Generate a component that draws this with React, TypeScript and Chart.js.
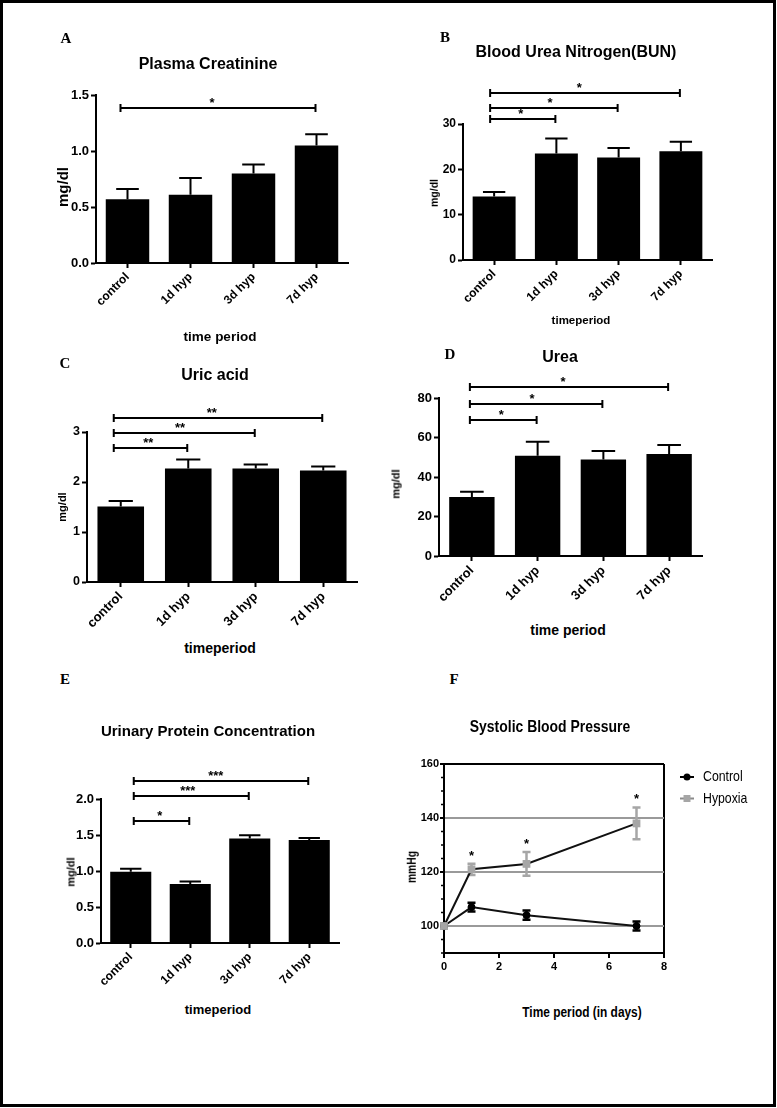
import React, { useEffect, useRef } from "react";
import { Chart, registerables } from "chart.js";

Chart.register(...registerables);

const SANS = '"Liberation Sans", Arial, Helvetica, sans-serif';
const SERIF = '"Liberation Serif", "Times New Roman", Times, serif';
const NARROW_SCALE = 0.82;

// ---------- shared categories ----------
const groups = ["control", "1d hyp", "3d hyp", "7d hyp"];

// ---------- A: Plasma Creatinine ----------
const creatinineMean = [0.57, 0.61, 0.8, 1.05];
const creatinineSem = [0.09, 0.15, 0.08, 0.1];
const creatinineTicks = [0, 0.5, 1.0, 1.5];
const creatinineSig: [number, number, number, string][] = [[0, 3, 1.38, "*"]];

// ---------- B: Blood Urea Nitrogen ----------
const bunMean = [14.0, 23.5, 22.6, 24.0];
const bunSem = [1.0, 3.3, 2.1, 2.1];
const bunTicks = [0, 10, 20, 30];
const bunSig: [number, number, number, string][] = [
  [0, 1, 31.0, "*"],
  [0, 2, 33.6, "*"],
  [0, 3, 36.9, "*"],
];

// ---------- C: Uric acid ----------
const uricMean = [1.51, 2.27, 2.27, 2.23];
const uricSem = [0.11, 0.18, 0.08, 0.08];
const uricTicks = [0, 1, 2, 3];
const uricSig: [number, number, number, string][] = [
  [0, 1, 2.69, "**"],
  [0, 2, 2.98, "**"],
  [0, 3, 3.28, "**"],
];

// ---------- D: Urea ----------
const ureaMean = [29.9, 50.7, 48.8, 51.7];
const ureaSem = [2.6, 7.2, 4.4, 4.5];
const ureaTicks = [0, 20, 40, 60, 80];
const ureaSig: [number, number, number, string][] = [
  [0, 1, 68.7, "*"],
  [0, 2, 76.9, "*"],
  [0, 3, 85.5, "*"],
];

// ---------- E: Urinary Protein Concentration ----------
const proteinMean = [0.99, 0.82, 1.45, 1.43];
const proteinSem = [0.04, 0.035, 0.045, 0.03];
const proteinTicks = [0, 0.5, 1.0, 1.5, 2.0];
const proteinSig: [number, number, number, string][] = [
  [0, 1, 1.7, "*"],
  [0, 2, 2.04, "***"],
  [0, 3, 2.25, "***"],
];

// ---------- F: Systolic Blood Pressure ----------
const days = [0, 1, 3, 7];
const controlBP = [100, 107, 104, 100];
const controlBPSem = [1.0, 1.6, 1.7, 1.7];
const hypoxiaBP = [100, 121, 123, 138];
const hypoxiaBPSem = [1.0, 2.1, 4.4, 5.9];
const hypoxiaSig = ["", "*", "*", "*"];
const bpXTicks = [0, 2, 4, 6, 8];
const bpYTicks = [100, 120, 140, 160];

// ---------- layout constants ----------
const Y_W = 46;
const X_H = 56;
const PAD_T = 70;
const PAD_R = 20;

type Area = { L: number; T: number; R: number; B: number };

type BarPanelProps = {
  values: number[];
  errors: number[];
  ticks: number[];
  sig: [number, number, number, string][];
  decimals: number;
  area: Area;
  yFont: number;
  xFont: number;
  leftShift: number;
};

function BarPanel(p: BarPanelProps) {
  const ref = useRef<HTMLCanvasElement>(null);
  const { L, T, R, B } = p.area;
  const left = L - Y_W;
  const top = T - PAD_T;
  const width = R - left + PAD_R;
  const height = B - top + X_H;

  useEffect(() => {
    if (!ref.current) return;
    const errorPlugin = {
      id: "errorBars",
      afterDatasetsDraw(chart: any) {
        const ctx = chart.ctx;
        const meta = chart.getDatasetMeta(0);
        const y = chart.scales.y;
        ctx.save();
        ctx.strokeStyle = "#000";
        ctx.lineWidth = 2;
        meta.data.forEach((bar: any, i: number) => {
          const yTop = y.getPixelForValue(p.values[i] + p.errors[i]);
          const yBase = y.getPixelForValue(p.values[i]);
          const half = bar.width * 0.26;
          ctx.beginPath();
          ctx.moveTo(bar.x, yBase);
          ctx.lineTo(bar.x, yTop);
          ctx.moveTo(bar.x - half, yTop);
          ctx.lineTo(bar.x + half, yTop);
          ctx.stroke();
        });
        ctx.restore();
      },
    };
    const bracketPlugin = {
      id: "sigBrackets",
      afterDraw(chart: any) {
        const ctx = chart.ctx;
        const x = chart.scales.x;
        const y = chart.scales.y;
        ctx.save();
        ctx.strokeStyle = "#000";
        ctx.fillStyle = "#000";
        ctx.lineWidth = 2;
        ctx.font = `bold 13px ${SANS}`;
        ctx.textAlign = "center";
        ctx.textBaseline = "alphabetic";
        p.sig.forEach(([a, b, v, label]) => {
          const x1 = x.getPixelForValue(a) + p.leftShift;
          const x2 = x.getPixelForValue(b) - 1;
          const yy = Math.round(y.getPixelForValue(v));
          ctx.beginPath();
          ctx.moveTo(x1, yy);
          ctx.lineTo(x2, yy);
          ctx.moveTo(x1, yy - 4);
          ctx.lineTo(x1, yy + 4);
          ctx.moveTo(x2, yy - 4);
          ctx.lineTo(x2, yy + 4);
          ctx.stroke();
          ctx.fillText(label, x1 + (x2 - x1) * 0.47, yy - 1);
        });
        ctx.restore();
      },
    };
    const ticks = p.ticks;
    const chart = new Chart(ref.current, {
      type: "bar",
      data: {
        labels: groups,
        datasets: [
          {
            data: p.values,
            backgroundColor: "#000",
            borderWidth: 0,
            barPercentage: 0.69,
            categoryPercentage: 1,
          },
        ],
      },
      options: {
        animation: false,
        responsive: false,
        maintainAspectRatio: false,
        events: [],
        layout: { padding: { top: PAD_T, right: PAD_R, left: 0, bottom: 0 }, autoPadding: false },
        plugins: { legend: { display: false }, tooltip: { enabled: false }, title: { display: false } },
        scales: {
          x: {
            type: "category",
            offset: true,
            grid: {
              display: true,
              offset: false,
              drawOnChartArea: false,
              drawTicks: true,
              tickLength: 5,
              tickWidth: 2,
              tickColor: "#000",
            },
            border: { display: true, color: "#000", width: 2 },
            ticks: {
              color: "#000",
              font: { family: SANS, size: p.xFont, weight: "bold" },
              minRotation: 45,
              maxRotation: 45,
              padding: 2,
              autoSkip: false,
            },
            afterFit: (s: any) => {
              s.height = X_H;
            },
          },
          y: {
            type: "linear",
            min: ticks[0],
            max: ticks[ticks.length - 1],
            afterBuildTicks: (s: any) => {
              s.ticks = ticks.map((v) => ({ value: v }));
            },
            grid: {
              display: true,
              drawOnChartArea: false,
              drawTicks: true,
              tickLength: 5,
              tickWidth: 2,
              tickColor: "#000",
            },
            border: { display: true, color: "#000", width: 2 },
            ticks: {
              color: "#000",
              font: { family: SANS, size: p.yFont, weight: "bold" },
              padding: 2,
              callback: (v: any) => Number(v).toFixed(p.decimals),
            },
            afterFit: (s: any) => {
              s.width = Y_W;
            },
          },
        },
      } as any,
      plugins: [errorPlugin, bracketPlugin],
    });
    return () => chart.destroy();
  }, []);

  return (
    <canvas
      ref={ref}
      width={width}
      height={height}
      style={{ position: "absolute", left, top, width, height }}
    />
  );
}

function BPPanel() {
  const ref = useRef<HTMLCanvasElement>(null);
  const area: Area = { L: 444, T: 764, R: 664, B: 953 };
  const YW = 40;
  const XH = 30;
  const PT = 24;
  const PR = 106;
  const left = area.L - YW;
  const top = area.T - PT;
  const width = area.R - left + PR;
  const height = area.B - top + XH;

  useEffect(() => {
    if (!ref.current) return;
    const sems = [controlBPSem, hypoxiaBPSem];
    const means = [controlBP, hypoxiaBP];
    const errColors = ["#000", "#a6a6a6"];
    const legendLine = ["#000", "#8a8a8a"];

    const errPlugin = {
      id: "bpErrors",
      beforeDatasetsDraw(chart: any) {
        const ctx = chart.ctx;
        const y = chart.scales.y;
        ctx.save();
        ctx.lineWidth = 2.5;
        [0, 1].forEach((di) => {
          const meta = chart.getDatasetMeta(di);
          ctx.strokeStyle = errColors[di];
          meta.data.forEach((pt: any, i: number) => {
            const y1 = y.getPixelForValue(means[di][i] + sems[di][i]);
            const y2 = y.getPixelForValue(means[di][i] - sems[di][i]);
            ctx.beginPath();
            ctx.moveTo(pt.x, y1);
            ctx.lineTo(pt.x, y2);
            ctx.moveTo(pt.x - 4, y1);
            ctx.lineTo(pt.x + 4, y1);
            ctx.moveTo(pt.x - 4, y2);
            ctx.lineTo(pt.x + 4, y2);
            ctx.stroke();
          });
        });
        ctx.restore();
      },
      afterDatasetsDraw(chart: any) {
        const ctx = chart.ctx;
        const y = chart.scales.y;
        const meta = chart.getDatasetMeta(1);
        ctx.save();
        ctx.fillStyle = "#000";
        ctx.font = `bold 13px ${SANS}`;
        ctx.textAlign = "center";
        ctx.textBaseline = "alphabetic";
        meta.data.forEach((pt: any, i: number) => {
          if (!hypoxiaSig[i]) return;
          const yTop = y.getPixelForValue(hypoxiaBP[i] + hypoxiaBPSem[i]);
          ctx.fillText(hypoxiaSig[i], pt.x, yTop - 4);
        });
        ctx.restore();
      },
      afterDraw(chart: any) {
        const ctx = chart.ctx;
        const ca = chart.chartArea;
        const y = chart.scales.y;
        ctx.save();
        // minor ticks
        ctx.strokeStyle = "#000";
        ctx.lineWidth = 1.5;
        for (let v = y.min; v <= y.max; v += 5) {
          if (bpYTicks.indexOf(v) >= 0) continue;
          const yy = y.getPixelForValue(v);
          ctx.beginPath();
          ctx.moveTo(ca.left - 3, yy);
          ctx.lineTo(ca.left, yy);
          ctx.stroke();
        }
        // legend
        chart.data.datasets.forEach((ds: any, i: number) => {
          const yy = ca.top + 13 + i * 21.5;
          const x0 = ca.right + 16;
          ctx.strokeStyle = legendLine[i];
          ctx.lineWidth = 2;
          ctx.beginPath();
          ctx.moveTo(x0, yy);
          ctx.lineTo(x0 + 14, yy);
          ctx.stroke();
          ctx.fillStyle = ds.pointBackgroundColor;
          ctx.beginPath();
          if (ds.pointStyle === "rect") {
            ctx.rect(x0 + 7 - 3.5, yy - 3.5, 7, 7);
          } else {
            ctx.arc(x0 + 7, yy, 3.5, 0, Math.PI * 2);
          }
          ctx.fill();
          ctx.save();
          ctx.translate(x0 + 23, yy);
          ctx.scale(NARROW_SCALE, 1);
          ctx.fillStyle = "#000";
          ctx.font = `15px ${SANS}`;
          ctx.textAlign = "left";
          ctx.textBaseline = "middle";
          ctx.fillText(ds.label, 0, 0);
          ctx.restore();
        });
        ctx.restore();
      },
    };

    const chart = new Chart(ref.current, {
      type: "line",
      data: {
        datasets: [
          {
            label: "Control",
            data: days.map((d, i) => ({ x: d, y: controlBP[i] })),
            borderColor: "#111",
            borderWidth: 2,
            pointStyle: "circle",
            pointRadius: 3.5,
            pointBackgroundColor: "#000",
            pointBorderColor: "#000",
            pointBorderWidth: 1,
            tension: 0,
            order: 1,
            clip: false,
          },
          {
            label: "Hypoxia",
            data: days.map((d, i) => ({ x: d, y: hypoxiaBP[i] })),
            borderColor: "#111",
            borderWidth: 2,
            pointStyle: "rect",
            pointRadius: 5.5,
            pointBackgroundColor: "#a6a6a6",
            pointBorderColor: "#a6a6a6",
            pointBorderWidth: 0,
            tension: 0,
            order: 0,
            clip: false,
          },
        ],
      },
      options: {
        animation: false,
        responsive: false,
        maintainAspectRatio: false,
        events: [],
        layout: { padding: { top: PT, right: PR, left: 0, bottom: 0 }, autoPadding: false },
        plugins: { legend: { display: false }, tooltip: { enabled: false }, title: { display: false } },
        scales: {
          x: {
            type: "linear",
            min: bpXTicks[0],
            max: bpXTicks[bpXTicks.length - 1],
            afterBuildTicks: (s: any) => {
              s.ticks = bpXTicks.map((v) => ({ value: v }));
            },
            grid: {
              display: true,
              drawOnChartArea: true,
              drawTicks: true,
              color: (c: any) => (c.tick && c.tick.value === 8 ? "#000" : "rgba(0,0,0,0)"),
              lineWidth: 2,
              tickLength: 5,
              tickWidth: 2,
              tickColor: "#000",
            },
            border: { display: true, color: "#000", width: 2 },
            ticks: {
              color: "#000",
              font: { family: SANS, size: 11, weight: "bold" },
              padding: 2,
              maxRotation: 0,
            },
            afterFit: (s: any) => {
              s.height = XH;
            },
          },
          y: {
            type: "linear",
            min: 90,
            max: 160,
            afterBuildTicks: (s: any) => {
              s.ticks = bpYTicks.map((v) => ({ value: v }));
            },
            grid: {
              display: true,
              drawOnChartArea: true,
              drawTicks: true,
              color: (c: any) => (c.tick && c.tick.value === 160 ? "#000" : "#9a9a9a"),
              lineWidth: 2,
              tickLength: 4,
              tickWidth: 2,
              tickColor: "#000",
            },
            border: { display: true, color: "#000", width: 2 },
            ticks: {
              color: "#000",
              font: { family: SANS, size: 11, weight: "bold" },
              padding: 1,
            },
            afterFit: (s: any) => {
              s.width = YW;
            },
          },
        },
      } as any,
      plugins: [errPlugin],
    });
    return () => chart.destroy();
  }, []);

  return (
    <canvas
      ref={ref}
      width={width}
      height={height}
      style={{ position: "absolute", left, top, width, height }}
    />
  );
}

function Txt(props: { x: number; y: number; text: string; font: string; rotate?: boolean; sx?: number }) {
  const rot = props.rotate ? " rotate(-90deg)" : "";
  const sc = props.sx ? ` scaleX(${props.sx})` : "";
  return (
    <div
      style={{
        position: "absolute",
        left: props.x,
        top: props.y,
        transform: `translate(-50%, -50%)${rot}${sc}`,
        font: props.font,
        lineHeight: 1,
        whiteSpace: "nowrap",
        color: "#000",
      }}
    >
      {props.text}
    </div>
  );
}

export default function App() {
  const b = (s: number) => `bold ${s}px ${SANS}`;
  const letter = `bold 15px ${SERIF}`;
  return (
    <div
      style={{
        position: "absolute",
        left: 0,
        top: 0,
        width: 777,
        height: 1108,
        background: "#fff",
        overflow: "hidden",
      }}
    >
      <div
        style={{
          position: "absolute",
          left: 0,
          top: 0,
          width: 776,
          height: 1107,
          border: "3px solid #000",
          boxSizing: "border-box",
        }}
      />

      <BarPanel
        values={creatinineMean}
        errors={creatinineSem}
        ticks={creatinineTicks}
        sig={creatinineSig}
        decimals={1}
        area={{ L: 96, T: 95, R: 348, B: 263 }}
        yFont={13}
        xFont={12}
        leftShift={-7}
      />
      <BarPanel
        values={bunMean}
        errors={bunSem}
        ticks={bunTicks}
        sig={bunSig}
        decimals={0}
        area={{ L: 463, T: 124, R: 712, B: 260 }}
        yFont={12}
        xFont={12}
        leftShift={-4}
      />
      <BarPanel
        values={uricMean}
        errors={uricSem}
        ticks={uricTicks}
        sig={uricSig}
        decimals={0}
        area={{ L: 87, T: 432, R: 357, B: 582 }}
        yFont={12.5}
        xFont={13}
        leftShift={-7}
      />
      <BarPanel
        values={ureaMean}
        errors={ureaSem}
        ticks={ureaTicks}
        sig={ureaSig}
        decimals={0}
        area={{ L: 439, T: 398, R: 702, B: 556 }}
        yFont={13}
        xFont={13}
        leftShift={-2}
      />
      <BarPanel
        values={proteinMean}
        errors={proteinSem}
        ticks={proteinTicks}
        sig={proteinSig}
        decimals={1}
        area={{ L: 101, T: 799, R: 339, B: 943 }}
        yFont={13}
        xFont={12}
        leftShift={3}
      />
      <BPPanel />

      {/* panel letters */}
      <Txt x={66} y={38} text="A" font={letter} />
      <Txt x={445} y={37} text="B" font={letter} />
      <Txt x={65} y={363} text="C" font={letter} />
      <Txt x={450} y={354} text="D" font={letter} />
      <Txt x={65} y={679} text="E" font={letter} />
      <Txt x={454} y={679} text="F" font={letter} />

      {/* chart titles */}
      <Txt x={208} y={64} text="Plasma Creatinine" font={b(16)} />
      <Txt x={576} y={52} text="Blood Urea Nitrogen(BUN)" font={b(16)} />
      <Txt x={215} y={375} text="Uric acid" font={b(16)} />
      <Txt x={560} y={357} text="Urea" font={b(16)} />
      <Txt x={208} y={730} text="Urinary Protein Concentration" font={b(15)} />
      <Txt x={550} y={726} text="Systolic Blood Pressure" font={b(17)} sx={NARROW_SCALE} />

      {/* axis titles */}
      <Txt x={220} y={337} text="time period" font={b(13.5)} />
      <Txt x={62} y={187} text="mg/dl" font={b(15)} rotate />
      <Txt x={581} y={321} text="timeperiod" font={b(11.5)} />
      <Txt x={434} y={193} text="mg/dl" font={b(10.5)} rotate />
      <Txt x={220} y={648} text="timeperiod" font={b(14)} />
      <Txt x={62} y={507} text="mg/dl" font={b(11)} rotate />
      <Txt x={568} y={630} text="time period" font={b(14)} />
      <Txt x={396} y={484} text="mg/dl" font={b(11)} rotate />
      <Txt x={218} y={1009} text="timeperiod" font={b(13)} />
      <Txt x={71} y={872} text="mg/dl" font={b(11)} rotate />
      <Txt x={582} y={1012} text="Time period (in days)" font={b(14.5)} sx={NARROW_SCALE} />
      <Txt x={412} y={867} text="mmHg" font={b(12.5)} rotate sx={NARROW_SCALE} />
    </div>
  );
}
